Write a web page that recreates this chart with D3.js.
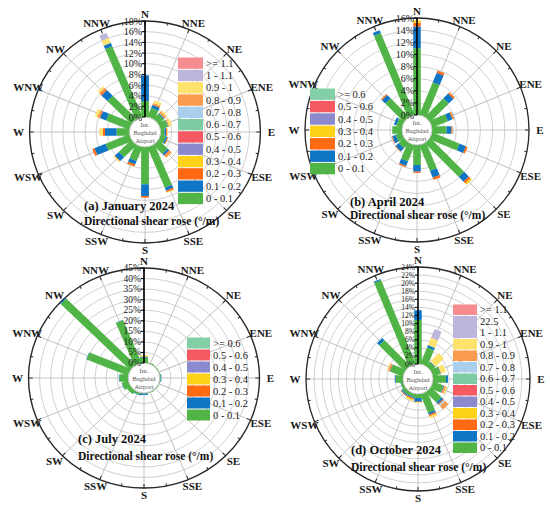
<!DOCTYPE html>
<html>
<head>
<meta charset="utf-8">
<script src="https://cdn.jsdelivr.net/npm/d3@7"></script>
<style>
    body { margin: 0; background: #fff; }
    svg { display: block; font-family: "Liberation Serif", "Times New Roman", serif; }
</style>
</head>
<body>
<svg id="chart" width="550" height="508"></svg>
<script>
// compass sectors, clockwise from north
const directions = ["N", "NNE", "NE", "ENE", "E", "ESE", "SE", "SSE",
    "S", "SSW", "SW", "WSW", "W", "WNW", "NW", "NNW"];

// shear classes (deg/m), bottom of stack first
const classes12 = ["0 - 0.1", "0.1 - 0.2", "0.2 - 0.3", "0.3 - 0.4", "0.4 - 0.5", "0.5 - 0.6",
    "0.6 - 0.7", "0.7 - 0.8", "0.8 - 0.9", "0.9 - 1", "1 - 1.1", ">= 1.1"];
const classes7 = ["0 - 0.1", "0.1 - 0.2", "0.2 - 0.3", "0.3 - 0.4", "0.4 - 0.5", "0.5 - 0.6", ">= 0.6"];
const colors12 = ["#50B447", "#0F76C6", "#FF6A13", "#FFD21A", "#8C8ACF", "#F55A62",
    "#7DCBA2", "#A9CFEC", "#F99B4E", "#FDE26E", "#BDB5DC", "#F58C8F"];
const colors7 = ["#50B447", "#0F76C6", "#FF6A13", "#FFD21A", "#8C8ACF", "#F55A62", "#83CFA8"];

// frequency (%) per direction, one column per class
const janValues = [
    [3.0, 4.8, 0, 0, 0, 0, 0, 0, 0, 0, 0, 0],
    [1.8, 0.6, 0.2, 0, 0, 0, 0, 0, 0.2, 0.5, 0, 0],
    [1.3, 0.2, 0, 0, 0, 0, 0, 0, 0.4, 0.3, 0, 0],
    [1.4, 0.1, 0, 0, 0, 0, 0, 0, 0.2, 0.5, 0, 0],
    [0.7, 0.3, 0.2, 0, 0, 0, 0, 0, 0, 0.1, 0, 0],
    [1.0, 0.3, 0.1, 0, 0, 0, 0, 0, 0.1, 0, 0, 0],
    [2.3, 0.4, 0.2, 0, 0, 0, 0, 0, 0.4, 0.1, 0, 0],
    [8.2, 0.6, 0.3, 0, 0, 0, 0, 0, 0, 0.2, 0, 0],
    [7.0, 2.2, 0.3, 0, 0, 0, 0, 0, 0, 0, 0, 0],
    [2.8, 0.7, 0.4, 0, 0, 0, 0, 0, 0, 0.1, 0, 0],
    [3.2, 1.0, 0.1, 0, 0, 0, 0, 0, 0, 0.2, 0, 0],
    [4.6, 2.2, 0.4, 0, 0, 0, 0, 0, 0, 0, 0, 0],
    [2.3, 2.1, 0.4, 0, 0, 0, 0, 0, 0, 0.6, 0, 0],
    [4.5, 1.2, 0.2, 0, 0, 0, 0, 0, 0.3, 0.5, 0, 0],
    [6.1, 1.5, 0.3, 0, 0, 0, 0, 0, 0.3, 0.4, 0, 0],
    [14.3, 0.7, 0, 0, 0, 0, 0, 0, 0, 1.0, 1.0, 0]
];
const aprValues = [
    [11.0, 3.6, 0.6, 0.4, 0, 0, 0],
    [5.8, 1.7, 0.4, 0, 0, 0, 0],
    [4.3, 1.1, 0.3, 0, 0, 0, 0],
    [2.8, 0.8, 0.2, 0.1, 0.1, 0, 0],
    [2.4, 0.8, 0.1, 0.1, 0.1, 0, 0],
    [4.9, 1.1, 0.3, 0, 0, 0, 0],
    [7.9, 1.1, 0.4, 0.3, 0, 0, 0],
    [4.6, 1.2, 0.4, 0, 0, 0, 0],
    [3.3, 1.1, 0.2, 0, 0, 0, 0],
    [2.9, 0.8, 0.2, 0, 0, 0, 0],
    [1.2, 0.7, 0.1, 0, 0, 0, 0],
    [1.1, 0.6, 0.1, 0, 0, 0, 0],
    [1.6, 0, 0, 0, 0, 0, 0],
    [1.0, 0.4, 0, 0, 0, 0, 0],
    [4.3, 0.8, 0.2, 0, 0, 0, 0],
    [14.6, 0.5, 0, 0, 0, 0, 0]
];
const julValues = [
    [2.5, 0.5, 0, 0.6, 0, 0, 0],
    [0.5, 0, 0, 0, 0, 0, 0],
    [0.3, 0, 0, 0, 0, 0, 0],
    [0.3, 0, 0, 0, 0, 0, 0],
    [0.4, 0.3, 0, 0, 0, 0, 0],
    [0.3, 0, 0, 0, 0, 0, 0],
    [0.3, 0, 0, 0, 0, 0, 0],
    [0.3, 0, 0, 0, 0, 0, 0],
    [0.3, 0.6, 0, 0, 0, 0, 0],
    [1.0, 0.2, 0, 0, 0, 0, 0],
    [2.0, 0, 0, 0, 0, 0, 0],
    [3.0, 0.2, 0, 0, 0, 0, 0],
    [4.0, 0.2, 0, 0, 0, 0, 0],
    [20.2, 0.2, 0, 0, 0, 0, 0],
    [44.3, 0.5, 0, 0, 0, 0, 0],
    [21.8, 0.2, 0, 0, 0, 0, 0]
];
const octValues = [
    [10.9, 2.4, 0, 0, 0, 0, 0, 0, 0, 0, 0, 0],
    [4.4, 0.6, 0, 0, 0, 0, 0, 0, 0, 2.0, 2.3, 0],
    [1.3, 0.2, 0, 0, 0, 0, 0, 0, 0, 3.0, 0, 0],
    [2.0, 0.1, 0, 0, 0, 0, 0, 0, 0, 1.3, 0, 0],
    [3.2, 0.5, 0, 0, 0, 0, 0, 0, 0, 0, 0, 0],
    [2.7, 0.2, 0.1, 0, 0, 0, 0, 0, 0.5, 0.3, 0, 0],
    [3.6, 0.6, 0.3, 0, 0, 0, 0, 0.4, 1.1, 0, 0, 0],
    [5.0, 0.5, 0.4, 0, 0, 0, 0, 0, 0, 0.6, 0, 0],
    [1.0, 0.9, 0.1, 0, 0, 0, 0, 0, 0, 0.2, 0, 0],
    [0.8, 0.3, 0.3, 0.3, 0, 0, 0, 0, 0, 0.2, 0, 0],
    [0.9, 0.3, 0.2, 0, 0, 0, 0, 0, 0, 0, 0, 0],
    [0.6, 0.1, 0, 0, 0, 0, 0, 0, 0, 0, 0, 0],
    [1.8, 0.2, 0, 0, 0, 0, 0, 0, 0, 0, 0, 0],
    [3.4, 0.1, 0.2, 0, 0, 0, 0, 0, 0.3, 0.2, 0, 0],
    [9.0, 0.7, 0, 0, 0, 0, 0, 0, 0, 0, 0, 0],
    [22.4, 0.3, 0, 0, 0, 0, 0, 0, 0, 0, 0, 0]
];

// radial ticks (%)
const janTicks = d3.range(0, 19, 2);
const aprTicks = d3.range(0, 17, 2);
const julTicks = d3.range(0, 46, 5);
const octTicks = d3.range(0, 25, 2);

// October legend has an extra "22.5" row sharing the lavender swatch
const octLegendLabels = [">= 1.1", "22.5", "1 - 1.1", "0.9 - 1", "0.8 - 0.9", "0.7 - 0.8",
    "0.6 - 0.7", "0.5 - 0.6", "0.4 - 0.5", "0.3 - 0.4", "0.2 - 0.3", "0.1 - 0.2", "0 - 0.1"];
const octLegendSpan = [1, 2, 1, 1, 1, 1, 1, 1, 1, 1, 1, 1];

const titles = ["(a) January 2024", "(b) April 2024", "(c) July 2024", "(d) October 2024"];
const subtitle = "Directional shear rose (\u00B0/m)";

const R0 = 15;
const BAR_W = 7.5;

const svg = d3.select("#chart");

function roseRenderer(parent, { cx, cy, R, sx = 1, values, ticks, colors, tickFont = 10 }) {
    const g = parent.append("g");
    const geo = g.append("g").attr("transform", `translate(${ cx },${ cy }) scale(${ sx },1)`);
    const r = d3.scaleLinear().domain([0, d3.max(ticks)]).range([R0, R]);
    const angle = d3.scaleLinear().domain([0, directions.length]).range([0, 360]);
    const rad = i => angle(i) * Math.PI / 180;

    // rings
    geo.selectAll(".ring")
        .data(ticks.slice(1))
        .join("circle")
        .attr("class", "ring")
        .attr("r", d => r(d))
        .attr("fill", "none")
        .attr("stroke", "#cccccc")
        .attr("stroke-width", 0.9);

    // spokes
    geo.selectAll(".spoke")
        .data(directions.slice(1))
        .join("line")
        .attr("class", "spoke")
        .attr("transform", (d, i) => `rotate(${ angle(i + 1) })`)
        .attr("y1", -R0)
        .attr("y2", -R)
        .attr("stroke", "#c0c0c0")
        .attr("stroke-width", 0.9);

    // outer frame with inward ticks
    geo.append("circle")
        .attr("r", R)
        .attr("fill", "none")
        .attr("stroke", "#2a2a2a")
        .attr("stroke-width", 1.3);
    geo.selectAll(".frame-tick")
        .data(d3.range(32))
        .join("line")
        .attr("class", "frame-tick")
        .attr("transform", d => `rotate(${ d * 11.25 })`)
        .attr("y1", -R)
        .attr("y2", d => -R + (d % 2 ? 2.5 : 4))
        .attr("stroke", "#2a2a2a")
        .attr("stroke-width", 1);

    // stacked bars
    const series = d3.stack().keys(d3.range(colors.length))(values);
    geo.selectAll(".layer")
        .data(series)
        .join("g")
        .attr("class", "layer")
        .attr("fill", (d, i) => colors[i])
        .selectAll("rect")
        .data(d => d.map((p, i) => ({ y0: p[0], y1: p[1], i })).filter(p => p.y1 > p.y0))
        .join("rect")
        .attr("transform", d => `rotate(${ angle(d.i) })`)
        .attr("x", -BAR_W / 2)
        .attr("width", BAR_W)
        .attr("y", d => -r(d.y1))
        .attr("height", d => r(d.y1) - r(d.y0));

    // centre hole
    geo.append("circle")
        .attr("r", R0)
        .attr("fill", "#fff")
        .attr("stroke", "#bdbdbd")
        .attr("stroke-width", 0.9);

    // radial axis along N
    geo.append("line")
        .attr("y1", -R0)
        .attr("y2", -R)
        .attr("stroke", "#000")
        .attr("stroke-width", 1.6);
    geo.selectAll(".axis-tick")
        .data(ticks)
        .join("line")
        .attr("class", "axis-tick")
        .attr("x1", -3)
        .attr("x2", 0)
        .attr("y1", d => -r(d))
        .attr("y2", d => -r(d))
        .attr("stroke", "#000");

    g.selectAll(".tick-label")
        .data(ticks)
        .join("text")
        .attr("class", "tick-label")
        .attr("x", cx - 3)
        .attr("y", d => cy - r(d))
        .attr("text-anchor", "end")
        .attr("dominant-baseline", "central")
        .attr("font-size", tickFont)
        .attr("fill", "#222")
        .text(d => `${ d }%`);

    // compass labels
    g.selectAll(".dir-label")
        .data(directions)
        .join("text")
        .attr("class", "dir-label")
        .attr("x", (d, i) => cx + Math.sin(rad(i)) * (R * sx + 11))
        .attr("y", (d, i) => cy - Math.cos(rad(i)) * (R + 7))
        .attr("text-anchor", "middle")
        .attr("dominant-baseline", "central")
        .attr("font-size", 11)
        .attr("font-weight", "bold")
        .attr("fill", "#1a1a1a")
        .text(d => d);

    g.selectAll(".hub-label")
        .data(["Int.", "Baghdad", "Airport"])
        .join("text")
        .attr("class", "hub-label")
        .attr("x", cx)
        .attr("y", (d, i) => cy + (i - 1) * 8)
        .attr("text-anchor", "middle")
        .attr("dominant-baseline", "central")
        .attr("font-size", 6.5)
        .attr("fill", "#555")
        .text(d => d);

    return g;
}

function legendRenderer(parent, { x, y, w, rowH, labels, colors, spans }) {
    const g = parent.append("g").attr("transform", `translate(${ x },${ y })`);
    const rows = spans || colors.map(() => 1);
    let offset = 0;
    const cells = rows.map((s, i) => {
        const cell = { y: offset, h: s * rowH, color: colors[i] };
        offset += s * rowH;
        return cell;
    });
    g.selectAll("rect")
        .data(cells)
        .join("rect")
        .attr("x", 0)
        .attr("y", d => d.y + 0.5)
        .attr("width", w)
        .attr("height", d => d.h - 1)
        .attr("fill", d => d.color);
    g.selectAll("text")
        .data(labels)
        .join("text")
        .attr("x", w + 3)
        .attr("y", (d, i) => (i + 0.5) * rowH)
        .attr("dominant-baseline", "central")
        .attr("font-size", 10.5)
        .attr("fill", "#222")
        .text(d => d);
    return g;
}

function titleRenderer(parent, { x, y1, y2, text }) {
    [text, subtitle].forEach((t, i) => parent.append("text")
        .attr("x", x)
        .attr("y", i ? y2 : y1)
        .attr("dominant-baseline", "central")
        .attr("font-size", i ? 11.5 : 12.5)
        .attr("font-weight", "bold")
        .attr("fill", "#111")
        .text(t));
}

const rev = arr => arr.slice().reverse();

// (a) January
roseRenderer(svg, { cx: 145, cy: 132, R: 111, sx: 1.04, values: janValues, ticks: janTicks, colors: colors12 });
legendRenderer(svg, { x: 178, y: 57, w: 25, rowH: 12.3, labels: rev(classes12), colors: rev(colors12) });
titleRenderer(svg, { x: 84, y1: 206, y2: 221, text: titles[0] });

// (b) April
roseRenderer(svg, { cx: 417, cy: 130, R: 112, values: aprValues, ticks: aprTicks, colors: colors7 });
legendRenderer(svg, { x: 310, y: 88, w: 25, rowH: 12.4, labels: rev(classes7), colors: rev(colors7) });
titleRenderer(svg, { x: 350, y1: 202, y2: 215, text: titles[1] });

// (c) July
roseRenderer(svg, { cx: 144, cy: 378, R: 110, sx: 1.05, values: julValues, ticks: julTicks, colors: colors7, tickFont: 9.5 });
legendRenderer(svg, { x: 187, y: 337, w: 23, rowH: 12, labels: rev(classes7), colors: rev(colors7) });
titleRenderer(svg, { x: 78, y1: 439, y2: 456, text: titles[2] });

// (d) October
roseRenderer(svg, { cx: 418, cy: 379, R: 112, values: octValues, ticks: octTicks, colors: colors12, tickFont: 7.5 });
legendRenderer(svg, { x: 453, y: 304, w: 24, rowH: 11.5, labels: octLegendLabels, colors: rev(colors12), spans: octLegendSpan });
titleRenderer(svg, { x: 351, y1: 450, y2: 467, text: titles[3] });
</script>
</body>
</html>
